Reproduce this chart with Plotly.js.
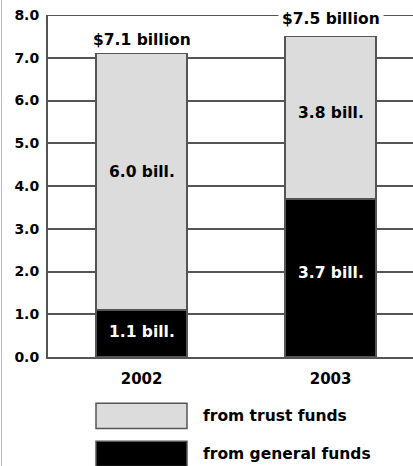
<!DOCTYPE html>
<html>
<head>
<meta charset="utf-8">
<script src="https://cdn.plot.ly/plotly-3.0.1.min.js"></script>
<style>
html,body{margin:0;padding:0;background:#fff;}
#wrap{position:relative;width:413px;height:466px;}
#chart{width:413px;height:466px;}
#edge{position:absolute;left:1px;top:0;width:1px;height:466px;background:#bdbdbd;}
</style>
</head>
<body>
<div id="wrap"><div id="chart"></div><div id="edge"></div></div>
<script>
// ---- data ----
const years = ['2002', '2003'];
const generalFunds = [1.1, 3.7];
const trustFunds = [6.0, 3.8];
const seriesNames = ['from trust funds', 'from general funds'];
const yTicks = [0, 1, 2, 3, 4, 5, 6, 7, 8];

// ---- styling ----
const FONT = 'DejaVu Sans, Arial, sans-serif';
const LIGHT = '#dcdcdc';
const DARK = '#000000';
const LINE = '#555555';
const totalShift = [13, 17];
const generalShift = [1, 5];
const trustShift = [10, 5];

const totals = years.map((_, i) => +(generalFunds[i] + trustFunds[i]).toFixed(1));

const traces = [
  {
    type: 'bar', x: years, y: generalFunds, name: seriesNames[1],
    marker: {color: DARK, line: {color: LINE, width: 1.5}},
    hoverinfo: 'none'
  },
  {
    type: 'bar', x: years, y: trustFunds, name: seriesNames[0],
    marker: {color: LIGHT, line: {color: LINE, width: 1.5}},
    hoverinfo: 'none'
  }
];

const annotations = [];
years.forEach((yr, i) => {
  // total above bar
  annotations.push({
    x: i, y: totals[i], xref: 'x', yref: 'y',
    text: '$' + totals[i].toFixed(1) + ' billion',
    showarrow: false, yanchor: 'middle', yshift: totalShift[i],
    bgcolor: '#ffffff', borderpad: 3,
    font: {family: FONT, size: 15.5, color: '#000', weight: 'bold'}
  });
  // segment labels
  annotations.push({
    x: i, y: generalFunds[i] / 2, xref: 'x', yref: 'y',
    text: generalFunds[i].toFixed(1) + ' bill.',
    showarrow: false, yanchor: 'middle', yshift: generalShift[i],
    font: {family: FONT, size: 15.5, color: '#ffffff', weight: 'bold'}
  });
  annotations.push({
    x: i, y: generalFunds[i] + trustFunds[i] / 2, xref: 'x', yref: 'y',
    text: trustFunds[i].toFixed(1) + ' bill.',
    showarrow: false, yanchor: 'middle', yshift: trustShift[i],
    font: {family: FONT, size: 15.5, color: '#000000', weight: 'bold'}
  });
});

// top gridline (plotly omits the grid line at the range edge)
const shapes = [{
  type: 'line', xref: 'paper', yref: 'y', x0: 0, x1: 1,
  y0: yTicks[yTicks.length - 1], y1: yTicks[yTicks.length - 1],
  line: {color: LINE, width: 2}, layer: 'below'
}];

// legend (custom, large swatches)
const legendY = [-0.172, -0.283];
const legendColors = [LIGHT, DARK];
seriesNames.forEach((nm, i) => {
  shapes.push({
    type: 'rect', xref: 'paper', yref: 'paper',
    x0: 0.1315, x1: 0.3808, y0: legendY[i] - 0.037, y1: legendY[i] + 0.037,
    fillcolor: legendColors[i], line: {color: LINE, width: 1.5}
  });
  annotations.push({
    xref: 'paper', yref: 'paper', x: 0.42, y: legendY[i],
    xanchor: 'left', yanchor: 'middle', showarrow: false, text: nm,
    font: {family: FONT, size: 15.5, color: '#000', weight: 'bold'}
  });
});

const layout = {
  width: 413, height: 466, autosize: false,
  margin: {l: 48, r: 0, t: 15, b: 109, pad: 0},
  paper_bgcolor: '#ffffff', plot_bgcolor: '#ffffff',
  barmode: 'stack', bargap: 0.52,
  showlegend: false,
  font: {family: FONT, color: '#000'},
  xaxis: {
    type: 'category', range: [-0.495, 1.436],
    showgrid: false, zeroline: false,
    showline: true, linecolor: LINE, linewidth: 2,
    ticks: '', ticklabelstandoff: 7,
    tickfont: {family: FONT, size: 15, color: '#000', weight: 'bold'}
  },
  yaxis: {
    range: [0, 8], tickvals: yTicks, ticktext: yTicks.map(v => v.toFixed(1)),
    showgrid: true, gridcolor: LINE, gridwidth: 2,
    zeroline: false, showline: true, linecolor: LINE, linewidth: 2,
    ticks: '', ticklabelstandoff: 4,
    tickfont: {family: FONT, size: 14, color: '#000', weight: 'bold'}
  },
  shapes: shapes,
  annotations: annotations
};

Plotly.newPlot('chart', traces, layout, {displayModeBar: false, staticPlot: true});
</script>
</body>
</html>
